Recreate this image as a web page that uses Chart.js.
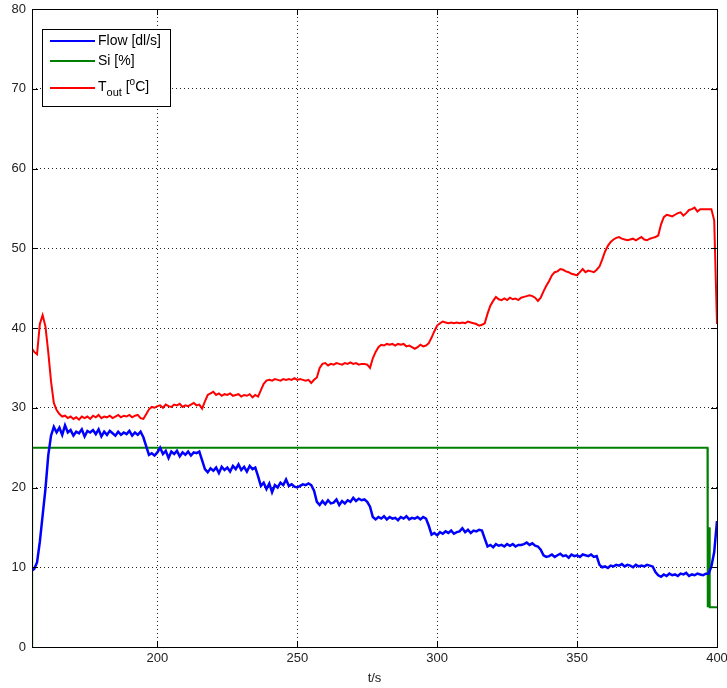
<!DOCTYPE html>
<html>
<head>
<meta charset="utf-8">
<script src="https://cdn.jsdelivr.net/npm/chart.js@4/dist/chart.umd.min.js"></script>
<style>
  body { margin: 0; background: #fff; }
  #wrap { width: 727px; height: 688px; }
</style>
</head>
<body>
<div id="wrap"><canvas id="chart" width="727" height="688"></canvas></div>
<script>
// sample times [s]
const time = [155.2,
  156, 157, 158, 159, 160, 161, 162, 163, 164, 165,
  166, 167, 168, 169, 170, 171, 172, 173, 174, 175,
  176, 177, 178, 179, 180, 181, 182, 183, 184, 185,
  186, 187, 188, 189, 190, 191, 192, 193, 194, 195,
  196, 197, 198, 199, 200, 201, 202, 203, 204, 205,
  206, 207, 208, 209, 210, 211, 212, 213, 214, 215,
  216, 217, 218, 219, 220, 221, 222, 223, 224, 225,
  226, 227, 228, 229, 230, 231, 232, 233, 234, 235,
  236, 237, 238, 239, 240, 241, 242, 243, 244, 245,
  246, 247, 248, 249, 250, 251, 252, 253, 254, 255,
  256, 257, 258, 259, 260, 261, 262, 263, 264, 265,
  266, 267, 268, 269, 270, 271, 272, 273, 274, 275,
  276, 277, 278, 279, 280, 281, 282, 283, 284, 285,
  286, 287, 288, 289, 290, 291, 292, 293, 294, 295,
  296, 297, 298, 299, 300, 301, 302, 303, 304, 305,
  306, 307, 308, 309, 310, 311, 312, 313, 314, 315,
  316, 317, 318, 319, 320, 321, 322, 323, 324, 325,
  326, 327, 328, 329, 330, 331, 332, 333, 334, 335,
  336, 337, 338, 339, 340, 341, 342, 343, 344, 345,
  346, 347, 348, 349, 350, 351, 352, 353, 354, 355,
  356, 357, 358, 359, 360, 361, 362, 363, 364, 365,
  366, 367, 368, 369, 370, 371, 372, 373, 374, 375,
  376, 377, 378, 379, 380, 381, 382, 383, 384, 385,
  386, 387, 388, 389, 390, 391, 392, 393, 394, 395,
  396, 397, 398, 399, 400];

// Flow [dl/s]
const flow = [9.6,
  9.8, 10.6, 13.2, 16.5, 19.8, 24.0, 26.5, 27.6, 26.9, 27.5,
  26.6, 27.8, 26.9, 27.2, 26.5, 27.0, 26.8, 27.3, 26.4, 27.1,
  26.9, 27.2, 26.7, 27.3, 26.4, 27.0, 26.6, 27.1, 26.8, 26.5,
  27.0, 26.6, 26.9, 26.7, 27.1, 26.5, 26.9, 26.6, 27.0, 26.3,
  25.2, 24.1, 24.3, 24.0, 24.4, 25.0, 24.2, 24.6, 23.7, 24.5,
  24.2, 24.6, 23.9, 24.4, 24.1, 24.5, 24.0, 24.4, 24.3, 24.5,
  23.4, 22.3, 21.9, 22.4, 22.1, 22.5, 21.8, 22.6, 22.2, 22.5,
  22.0, 22.7, 22.3, 22.9, 22.2, 22.6, 22.0, 22.7, 22.3, 22.5,
  21.4, 20.2, 20.6, 19.8, 20.5, 19.4, 20.3, 20.0, 20.6, 20.3,
  21.0, 20.2, 20.4, 20.1, 20.0, 20.2, 20.4, 20.3, 20.5, 20.3,
  19.6, 18.2, 17.8, 18.3, 17.9, 18.4, 18.0, 18.1, 18.5, 17.8,
  18.3, 18.0, 18.4, 18.2, 18.7, 18.3, 18.6, 18.4, 18.5, 18.2,
  17.6, 16.3, 16.0, 16.3, 16.1, 16.4, 16.0, 16.3, 16.1, 16.2,
  15.9, 16.3, 16.1, 16.4, 16.0, 16.2, 16.1, 16.3, 16.0, 16.3,
  16.1, 15.2, 14.1, 14.3, 14.0, 14.4, 14.2, 14.5, 14.3, 14.6,
  14.2, 14.4, 14.5, 14.9, 14.4, 14.7, 14.3, 14.6, 14.5, 14.7,
  14.6, 13.6, 12.6, 12.8, 12.5, 12.9, 12.7, 12.8, 12.6, 12.9,
  12.7, 12.9, 12.6, 12.8, 12.8, 12.9, 13.1, 12.8, 13.0, 12.7,
  12.6, 12.2, 11.5, 11.3, 11.4, 11.6, 11.3, 11.5, 11.7, 11.4,
  11.5, 11.2, 11.6, 11.4, 11.5, 11.3, 11.6, 11.5, 11.4, 11.6,
  11.3, 11.4, 10.3, 10.0, 10.1, 9.9, 10.2, 10.1, 10.3, 10.2,
  10.4, 10.1, 10.3, 10.2, 10.0, 10.3, 10.1, 10.2, 10.1, 10.3,
  10.2, 10.1, 9.4, 9.0, 8.8, 9.1, 8.9, 9.2, 9.0, 9.1,
  8.9, 9.2, 9.1, 9.3, 8.9, 9.1, 9.0, 9.2, 9.1, 9.0,
  9.2, 9.2, 10.1, 11.9, 15.8];

// T_out [oC]
const tout = [37.4,
  37.0, 36.7, 40.5, 41.6, 40.2, 37.0, 33.3, 30.6, 29.7, 29.2,
  28.9, 29.0, 28.7, 28.9, 28.6, 28.8, 28.5, 28.9, 28.7, 28.9,
  28.6, 29.0, 28.8, 29.1, 28.7, 28.9, 28.8, 29.0, 28.7, 28.9,
  29.1, 28.8, 29.0, 28.9, 29.1, 28.8, 29.0, 29.1, 28.7, 28.6,
  29.2, 29.8, 30.1, 30.0, 30.2, 30.3, 30.0, 30.4, 30.2, 30.1,
  30.4, 30.3, 30.5, 30.1, 30.3, 30.2, 30.4, 30.6, 30.3, 30.4,
  29.9, 30.8, 31.6, 31.8, 32.0, 31.6, 31.8, 31.5, 31.7, 31.6,
  31.8, 31.5, 31.6, 31.7, 31.4, 31.6, 31.5, 31.7, 31.3, 31.6,
  31.4, 32.2, 33.0, 33.4, 33.5, 33.4, 33.6, 33.5, 33.4, 33.6,
  33.5, 33.6, 33.5, 33.7, 33.5, 33.6, 33.5, 33.4, 33.5, 33.1,
  33.5, 33.8, 35.0, 35.5, 35.6, 35.3, 35.5, 35.4, 35.6, 35.5,
  35.4, 35.6, 35.5, 35.7, 35.5, 35.6, 35.4, 35.5, 35.5, 35.4,
  35.0, 36.2, 37.0, 37.6, 37.9, 37.8, 38.0, 37.9, 38.0, 37.8,
  38.0, 37.9, 38.0, 37.7, 37.8, 37.6, 37.4, 37.6, 37.9, 37.7,
  37.8, 38.1, 38.8, 39.6, 40.3, 40.6, 40.8, 40.7, 40.6, 40.7,
  40.6, 40.7, 40.6, 40.7, 40.6, 40.8, 40.7, 40.6, 40.5, 40.3,
  40.4, 40.6, 41.8, 42.8, 43.4, 43.9, 43.6, 43.5, 43.7, 43.5,
  43.8, 43.6, 43.7, 43.5, 43.8, 43.9, 44.0, 44.1, 44.0, 43.8,
  43.4, 43.8, 44.6, 45.3, 45.9, 46.6, 47.0, 47.1, 47.4, 47.3,
  47.1, 47.0, 46.8, 46.7, 46.6, 47.0, 47.4, 47.0, 47.2, 47.1,
  47.0, 47.3, 47.7, 48.6, 49.6, 50.3, 50.8, 51.1, 51.3, 51.4,
  51.2, 51.1, 51.0, 51.1, 51.2, 51.0, 51.2, 51.4, 51.1, 51.0,
  51.2, 51.3, 51.4, 51.6, 53.0, 53.9, 54.2, 54.1, 54.0, 54.2,
  54.4, 54.5, 54.1, 54.4, 54.8, 54.9, 55.1, 54.6, 54.9, 54.9,
  54.9, 54.9, 54.9, 53.5, 40.5];

// Si [%] (step signal)
const siTime = [155.2, 155.25, 396.6, 396.7, 397.2, 397.4, 400];
const si = [0, 25, 25, 5, 15, 5, 5];

const xTicks = [200, 250, 300, 350, 400];
const yTicks = [0, 10, 20, 30, 40, 50, 60, 70, 80];

const FONT = '"Liberation Sans", Arial, sans-serif';

function pts(xs, ys) {
  return xs.map((x, i) => ({ x, y: ys[i] }));
}

// box round the axes, inward ticks and the legend
const framePlugin = {
  id: "frame",
  afterDraw(chart) {
    const { ctx, chartArea: a, scales } = chart;
    ctx.save();
    ctx.strokeStyle = "#000";
    ctx.lineWidth = 1;
    ctx.setLineDash([]);
    ctx.strokeRect(a.left + 0.5, a.top + 0.5, a.right - a.left, a.bottom - a.top);

    ctx.beginPath();
    for (const v of yTicks) {
      const y = Math.round(scales.y.getPixelForValue(v)) + 0.5;
      ctx.moveTo(a.left, y); ctx.lineTo(a.left + 6, y);
      ctx.moveTo(a.right, y); ctx.lineTo(a.right - 6, y);
    }
    for (const v of xTicks) {
      const x = Math.round(scales.x.getPixelForValue(v)) + 0.5;
      ctx.moveTo(x, a.bottom); ctx.lineTo(x, a.bottom - 6);
      ctx.moveTo(x, a.top); ctx.lineTo(x, a.top + 6);
    }
    ctx.stroke();

    // legend
    const lx = 42, ly = 29, lw = 128, lh = 77;
    ctx.fillStyle = "#fff";
    ctx.fillRect(lx, ly, lw, lh);
    ctx.strokeRect(lx + 0.5, ly + 0.5, lw, lh);

    const rows = [
      { y: 41, color: "#0000ff" },
      { y: 61, color: "#008000" },
      { y: 88, color: "#ff0000" },
    ];
    ctx.lineWidth = 2;
    for (const r of rows) {
      ctx.strokeStyle = r.color;
      ctx.beginPath();
      ctx.moveTo(50, r.y); ctx.lineTo(95, r.y);
      ctx.stroke();
    }

    ctx.fillStyle = "#000";
    ctx.textBaseline = "middle";
    ctx.textAlign = "left";
    ctx.font = "14px " + FONT;
    ctx.fillText("Flow [dl/s]", 98, 41);
    ctx.fillText("Si [%]", 98, 61);

    let x = 98;
    ctx.fillText("T", x, 87);
    x += ctx.measureText("T").width;
    ctx.font = "11px " + FONT;
    ctx.fillText("out", x, 93);
    x += ctx.measureText("out").width;
    ctx.font = "14px " + FONT;
    ctx.fillText(" [", x, 87);
    x += ctx.measureText(" [").width;
    ctx.font = "10px " + FONT;
    ctx.fillText("o", x, 82);
    x += ctx.measureText("o").width;
    ctx.font = "14px " + FONT;
    ctx.fillText("C]", x, 87);
    ctx.restore();
  },
};

new Chart(document.getElementById("chart"), {
  type: "line",
  data: {
    datasets: [
      { label: "Flow [dl/s]", data: pts(time, flow), borderColor: "#0000ff", borderWidth: 2.5 },
      { label: "Si [%]", data: pts(siTime, si), borderColor: "#008000", borderWidth: 2 },
      { label: "Tout [oC]", data: pts(time, tout), borderColor: "#ff0000", borderWidth: 2 },
    ],
  },
  options: {
    responsive: false,
    animation: false,
    events: [],
    elements: { point: { radius: 0 }, line: { tension: 0 } },
    layout: { padding: { left: 0, top: 9, right: 10, bottom: 0 } },
    plugins: { legend: { display: false }, tooltip: { enabled: false } },
    scales: {
      x: {
        type: "linear",
        min: 155.2,
        max: 400,
        afterBuildTicks: (s) => { s.ticks = xTicks.map((v) => ({ value: v })); },
        afterFit: (s) => { s.height = 41; s.paddingLeft = 0; s.paddingRight = 0; },
        grid: { color: "#222", lineWidth: 1, drawTicks: false },
        border: { display: false, dash: [1, 3] },
        ticks: { color: "#222", font: { family: FONT, size: 13 }, padding: 4, maxRotation: 0 },
        title: { display: true, text: "t/s", color: "#222", font: { family: FONT, size: 13 }, padding: { top: 0, bottom: 2 } },
      },
      y: {
        min: 0,
        max: 80,
        afterBuildTicks: (s) => { s.ticks = yTicks.map((v) => ({ value: v })); },
        afterFit: (s) => { s.width = 32; s.paddingTop = 0; s.paddingBottom = 0; },
        grid: { color: "#222", lineWidth: 1, drawTicks: false },
        border: { display: false, dash: [1, 3] },
        ticks: { color: "#222", font: { family: FONT, size: 13 }, padding: 6 },
      },
    },
  },
  plugins: [framePlugin],
});
</script>
</body>
</html>
